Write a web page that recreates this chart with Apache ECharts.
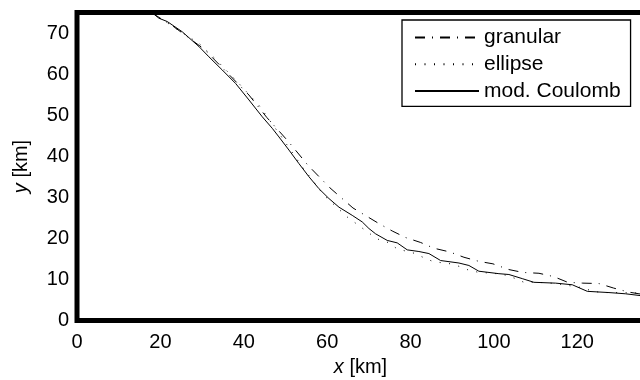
<!DOCTYPE html>
<html>
<head>
<meta charset="utf-8">
<script src="https://cdn.jsdelivr.net/npm/echarts@6/dist/echarts.min.js"></script>
<style>html,body{margin:0;padding:0;background:#fff}#c{width:640px;height:380px}</style>
</head>
<body>
<div id="c"></div>
<script>
const seriesNames = ['granular', 'ellipse', 'mod. Coulomb'];
const xTicks = [0, 20, 40, 60, 80, 100, 120];
const yTicks = [0, 10, 20, 30, 40, 50, 60, 70];

const granular = [
  [17.99,74.9],[23.26,71.5],[30.46,66.1],[35.97,60.4],[41.25,54.9],[45.56,49.4],
  [50.6,43.7],[55.4,37.8],[60.67,32.3],[66.19,27.4],[72.42,23.6],[75.61,21.8],
  [78.82,20.2],[82.42,19.0],[85.61,17.6],[89.38,16.7],[92.81,15.4],[96.4,14.4],
  [99.76,13.8],[103.6,12.4],[106.95,11.7],[110.8,11.5],[114.3,10.7],[117.7,9.3],
  [121.3,9.1],[125.2,9.0],[128.7,7.9],[132.4,6.9],[134.8,6.5],[137,6.2]
];
const ellipse = [
  [17.99,74.9],[21.65,72.5],[24.87,70.3],[29.26,67.5],[33.09,63.8],[38.85,57.7],
  [43.65,52.4],[48.92,44.9],[54.03,37.4],[59.23,30.5],[64.82,25.2],[66.83,23.7],
  [70.43,21.0],[72.42,19.7],[74.65,19.0],[76.57,17.6],[78.82,16.9],[80.82,16.4],
  [82.97,15.4],[85.06,14.5],[87.22,14.1],[89.62,13.8],[91.61,13.2],[93.6,12.4],
  [96.0,11.8],[98.3,11.6],[100.7,11.4],[103.1,11.0],[105.2,10.2],[107.2,9.3],
  [110.0,9.3],[112.4,9.2],[114.8,9.0],[118.0,8.5],[121.2,8.0],[123.2,7.3],
  [125.6,6.8],[130.0,6.8],[134.3,6.7],[137,6.6]
];
const modCoulomb = [
  [18.06,74.9],[19.66,73.6],[21.65,72.8],[25.25,70.3],[29.26,66.7],[31.65,64.2],
  [34.84,61.0],[38.06,57.7],[41.25,53.7],[44.44,49.6],[46.83,46.8],[48.44,44.7],
  [50.84,41.5],[53.24,38.2],[55.64,35.0],[58.03,32.1],[60.43,29.7],[62.83,27.6],
  [66.02,25.6],[68.42,24.0],[70.02,22.4],[71.63,21.1],[74.41,19.5],[76.81,18.9],
  [79.21,17.2],[82.01,16.8],[84.41,16.3],[87.22,14.6],[91.61,14.0],[94.0,13.4],
  [96.4,12.0],[101.2,11.4],[103.6,11.2],[106.8,10.2],[109.6,9.3],[114.8,9.1],
  [118.8,8.7],[122.4,7.1],[127.6,6.8],[131.6,6.5],[134.8,6.1],[137,5.9]
];

const FONT = 'Liberation Sans, Arial, sans-serif';
const chart = echarts.init(document.getElementById('c'), null, {renderer: 'canvas'});
chart.setOption({
  animation: false,
  backgroundColor: '#fff',
  grid: {
    left: 77, top: 12.5, width: 567, height: 308,
    outerBoundsMode: 'none', containLabel: false,
    show: true, borderColor: '#000', borderWidth: 5, backgroundColor: 'transparent'
  },
  legend: {
    orient: 'vertical',
    left: 402, top: 20,
    padding: [7, 10, 5, 12],
    itemWidth: 64, itemHeight: 14, itemGap: 5.7,
    borderColor: '#000', borderWidth: 1.3, backgroundColor: '#fff',
    itemStyle: {opacity: 0},
    textStyle: {fontFamily: FONT, fontSize: 21, color: '#000'},
    data: seriesNames
  },
  xAxis: {
    type: 'value', min: 0, max: 136, interval: 20,
    name: '{i|x} [km]', nameLocation: 'middle', nameGap: 37,
    nameTextStyle: {fontFamily: FONT, fontSize: 20, color: '#000',
      rich: {i: {fontStyle: 'italic', fontFamily: FONT, fontSize: 20, color: '#000'}}},
    axisLine: {show: false}, axisTick: {show: false}, splitLine: {show: false},
    axisLabel: {fontFamily: FONT, fontSize: 20, color: '#000', margin: 12,
      showMaxLabel: false,
      formatter: v => xTicks.includes(v) ? String(v) : ''}
  },
  yAxis: {
    type: 'value', min: 0, max: 75, interval: 10,
    name: '{i|y} [km]', nameLocation: 'middle', nameGap: 46,
    nameTextStyle: {fontFamily: FONT, fontSize: 20, color: '#000',
      rich: {i: {fontStyle: 'italic', fontFamily: FONT, fontSize: 20, color: '#000'}}},
    axisLine: {show: false}, axisTick: {show: false}, splitLine: {show: false},
    axisLabel: {fontFamily: FONT, fontSize: 20, color: '#000', margin: 8,
      showMaxLabel: false,
      formatter: v => yTicks.includes(v) ? String(v) : ''}
  },
  series: [
    {name: seriesNames[0], type: 'line', data: granular, symbol: 'none', z: 3,
      lineStyle: {color: '#000', width: 1, type: [10, 7, 1, 7]}, itemStyle: {color: '#000'}},
    {name: seriesNames[1], type: 'line', data: ellipse, symbol: 'none', z: 3,
      lineStyle: {color: '#000', width: 1, type: [1, 8.5]}, itemStyle: {color: '#000'}},
    {name: seriesNames[2], type: 'line', data: modCoulomb, symbol: 'none', z: 3,
      lineStyle: {color: '#000', width: 1, type: 'solid'}, itemStyle: {color: '#000'}}
  ]
});
</script>
</body>
</html>
